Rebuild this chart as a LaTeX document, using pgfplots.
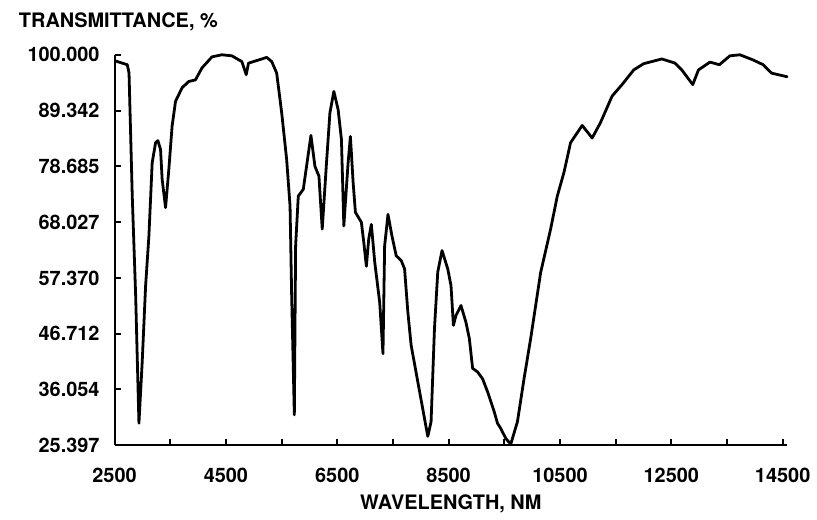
\documentclass[border=0pt]{standalone}
\usepackage{fontspec}
\setmainfont{TeX Gyre Heros}
\usepackage{pgfplots}
\pgfplotsset{compat=1.18}
\begin{document}
\begin{tikzpicture}
\begin{axis}[
  scale only axis,
  width=337.6pt, height=196pt,
  xmin=2500, xmax=14580,
  ymin=25.397, ymax=100,
  axis lines*=left,
  axis line style={line width=1pt, black},
  tick align=inside,
  major tick length=3pt,
  tick style={line width=1pt, black},
  scaled x ticks=false,
  scaled y ticks=false,
  xtick={2500,3500,...,14500},
  xticklabels={2500,,4500,,6500,,8500,,10500,,12500,,14500},
  ytick={25.397,36.054,46.712,57.370,68.027,78.685,89.342,100},
  yticklabels={25.397,36.054,46.712,57.370,68.027,78.685,89.342,100.000},
  ticklabel style={font=\fontsize{10}{12}\selectfont\bfseries},
  yticklabel style={xshift=-4pt},
  xticklabel style={yshift=-8pt},
  clip=false,
]
\addplot[black, line width=1.4pt, line join=round, line cap=round] coordinates {
  (2520,98.8) (2729,98.1) (2760,96.5) (2818,73.0) (2879,54.0) (2938,29.6)
  (2997,41.4) (3058,55.9) (3117,65.4) (3176,79.4) (3237,83.2) (3278,83.6)
  (3326,81.9) (3355,76.2) (3416,70.8) (3475,78.1) (3534,86.4) (3595,91.1)
  (3713,93.7) (3833,94.9) (3953,95.2) (4071,97.5) (4250,99.6) (4428,100.0)
  (4607,99.8) (4786,98.7) (4865,96.2) (4906,98.4) (5085,99.0) (5233,99.5)
  (5323,98.7) (5412,96.5) (5502,88.9) (5591,80.0) (5652,71.1) (5681,54.0)
  (5729,31.2) (5752,63.5) (5800,73.0) (5890,74.3) (6027,84.6) (6099,78.7)
  (6171,76.8) (6230,66.7) (6307,79.4) (6368,88.9) (6439,93.0) (6516,89.5)
  (6575,83.8) (6618,67.3) (6695,79.4) (6736,84.4) (6785,75.6) (6826,69.9)
  (6933,68.0) (6976,64.2) (7023,59.6) (7065,64.8) (7112,67.6) (7173,60.4)
  (7262,52.7) (7321,42.9) (7351,63.5) (7411,69.5) (7482,65.4) (7559,61.6)
  (7648,60.7) (7709,59.1) (7768,50.8) (7827,44.5) (7947,37.5) (8067,30.5)
  (8126,27.1) (8185,29.9) (8246,47.7) (8305,58.5) (8382,62.6) (8484,59.1)
  (8543,55.9) (8586,48.3) (8632,50.2) (8722,52.1) (8811,48.9) (8872,45.8)
  (8931,40.1) (9021,39.4) (9110,38.1) (9200,35.6) (9319,31.8) (9378,29.6)
  (9437,28.6) (9527,26.7) (9616,25.6) (9736,29.9) (9856,38.2) (9974,45.8)
  (10153,58.4) (10332,66.7) (10452,73.0) (10571,77.5) (10690,83.2) (10899,86.5)
  (11078,84.1) (11226,87.0) (11436,92.1) (11615,94.3) (11824,97.1) (12003,98.3)
  (12330,99.2) (12568,98.4) (12688,97.1) (12885,94.3) (12987,97.1) (13194,98.6)
  (13362,98.1) (13553,99.8) (13732,100.0) (13971,99.0) (14150,98.1) (14298,96.5)
  (14579,95.8)
};
% axis titles
\node[anchor=west, font=\fontsize{10}{12}\selectfont\bfseries]
  at ([xshift=-51.5pt, yshift=16.5pt]rel axis cs:0,1) {TRANSMITTANCE, \%};
\node[anchor=center, font=\fontsize{10}{12}\selectfont\bfseries]
  at ([yshift=-29.5pt]rel axis cs:0.5,0) {WAVELENGTH, NM};
\end{axis}
% page frame
\path ([shift={(-57.5pt,-33pt)}]current axis.south west)
  rectangle ([shift={(351pt,223.5pt)}]current axis.south west);
\end{tikzpicture}
\end{document}
